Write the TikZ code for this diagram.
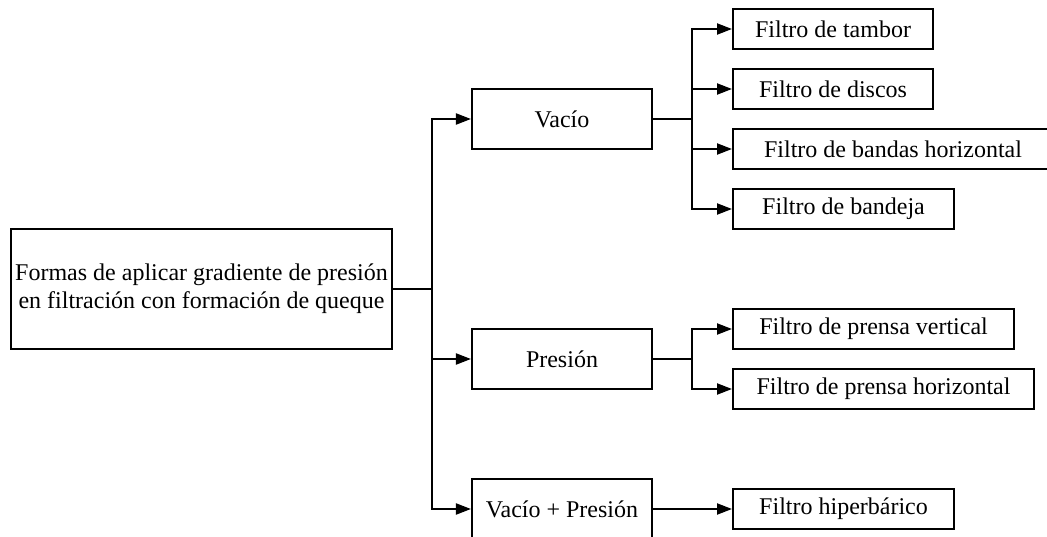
\documentclass[tikz,border=0pt]{standalone}
\usepackage{fontspec}
\setmainfont{Liberation Serif}
\usetikzlibrary{arrows.meta}
\begin{document}
\begin{tikzpicture}[x=1pt,y=-1pt,
  every node/.style={font=\fontsize{24}{28}\selectfont},
  box/.style={draw, line width=2.1pt, inner sep=0pt, align=center},
  leafbox/.style={box, anchor=west, minimum height=40pt},
  midbox/.style={box, minimum width=180pt, minimum height=60pt},
  link/.style={line width=2.1pt},
  arr/.style={link, -{Triangle[length=15pt,width=11pt]}}]
\useasboundingbox (0,0) rectangle (1047,537);
\clip (0,0) rectangle (1047,537);

% root and first level
\node[box, minimum width=381pt, minimum height=120pt] (root) at (201.5,289)
  {Formas de aplicar gradiente de presión\\en filtración con formación de queque};
\node[midbox] (vacio) at (562,119) {Vacío};
\node[midbox] (presion) at (562,359) {Presión};
\node[midbox] (vp) at (562,509) {Vacío + Presión};

% leaves
\node[leafbox, minimum width=200pt] (tambor) at (732,29) {Filtro de tambor};
\node[leafbox, minimum width=200pt] (discos) at (732,89) {Filtro de discos};
\node[leafbox, minimum width=320pt] (bandas) at (732,149) {Filtro de bandas horizontal};
\node[leafbox, minimum width=221pt] (bandeja) at (732,209) {Filtro de bandeja};
\node[leafbox, minimum width=281pt] (pvert) at (732,329) {Filtro de prensa vertical};
\node[leafbox, minimum width=301pt] (phor) at (732,389) {Filtro de prensa horizontal};
\node[leafbox, minimum width=221pt] (hiper) at (732,509) {Filtro hiperbárico};

% junction points
\coordinate (j0) at (432,289);
\coordinate (j1) at (692,119);
\coordinate (j2) at (692,359);

% root branches
\draw[link] (root.east) -- (j0);
\draw[arr] (j0) |- (vacio.west);
\draw[arr] (j0) |- (presion.west);
\draw[arr] (j0) |- (vp.west);

% vacuum branches
\draw[link] (vacio.east) -- (j1);
\draw[arr] (j1) |- (tambor.west);
\draw[arr] (j1) |- (discos.west);
\draw[arr] (j1) |- (bandas.west);
\draw[arr] (j1) |- (bandeja.west);

% pressure branches
\draw[link] (presion.east) -- (j2);
\draw[arr] (j2) |- (pvert.west);
\draw[arr] (j2) |- (phor.west);

% combined
\draw[arr] (vp.east) -- (hiper.west);
\end{tikzpicture}
\end{document}
